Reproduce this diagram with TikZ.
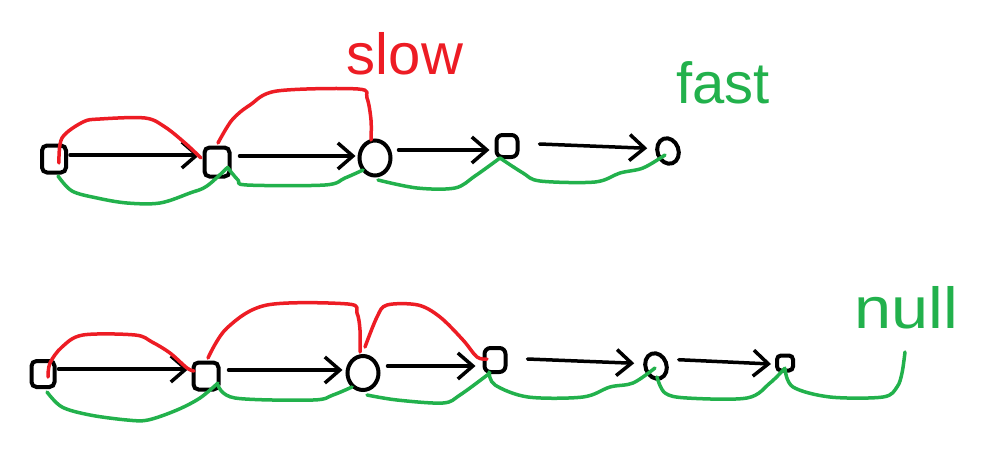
\documentclass[tikz,border=0pt]{standalone}
\usepackage{fontspec}
\setmainfont{Liberation Sans}
\usetikzlibrary{arrows.meta,shapes.geometric,calc}
\definecolor{pred}{HTML}{ED1C24}
\definecolor{pgreen}{HTML}{22B14C}
\begin{document}
\begin{tikzpicture}[x=1pt,y=-1pt,
  sq/.style n args={2}{draw=black,line width=4pt,rounded corners=5pt,inner sep=0pt,minimum width=#1,minimum height=#2},
  rd/.style n args={2}{draw=black,ellipse,line width=4pt,inner sep=0pt,minimum width=#1,minimum height=#2},
  arr/.style={line width=3.5pt,-{Straight Barb[length=15pt,width=26pt,line width=3.5pt]},line cap=round},
  redc/.style={pred,line width=3.5pt,line cap=round,line join=round},
  grc/.style={pgreen,line width=3.5pt,line cap=round,line join=round},
  lbl/.style={inner sep=0pt,font=\fontsize{58}{58}\selectfont}]
\useasboundingbox[fill=white] (0,0) rectangle (1002,452);

% top row
\node[sq={24pt}{27pt}] (n1) at (54,159) {};
\node[sq={25pt}{29pt}] (n2) at (217,162) {};
\node[rd={31pt}{35pt}] (n3) at (375,158) {};
\node[sq={21pt}{22pt},rounded corners=6pt] (n4) at (507,146) {};
\node[rd={21pt}{26pt},rotate=20] (n5) at (668,151) {};

\draw[arr] (n1.east) ++(2,-4) -- ($(n2.west)+(-3,-7)$);
\draw[arr] (n2.east) ++(8,-6) -- ($(n3.west)+(-2,-2)$);
\draw[arr] (n3.east) ++(6,-8) -- ($(n4.west)+(-5,4)$);
\draw[arr] (n4.east) ++(20,-2) -- ($(n5.west)+(-9,-7)$);

\draw[redc] plot[smooth,tension=0.55] coordinates {($(n1)+(5,4)$) (62,138) (83,122) (100,119) (145,118) (165,127) (185,143) ($(n2)+(-16,-4)$)};
\draw[redc] plot[smooth,tension=0.55] coordinates {($(n2)+(1,-19)$) (232,120) (250,105) (277,91) (358,89) (367,98) (371,120) ($(n3)+(-4,-18)$)};

\draw[grc] plot[smooth,tension=0.55] coordinates {($(n1)+(4,17)$) (72,191) (97,198) (127,203) (160,203) (190,193) (207,186) ($(n2)+(11,5)$)};
\draw[grc] plot[smooth,tension=0.55] coordinates {($(n2)+(11,6)$) (238,180) (247,185) (325,185) (345,178) ($(n3)+(-12,12)$)};
\draw[grc] plot[smooth,tension=0.55] coordinates {($(n3)+(3,22)$) (417,188) (455,188) (475,176) ($(n4)+(-7,12)$)};
\draw[grc] plot[smooth,tension=0.55] coordinates {($(n4)+(-7,12)$) (523,173) (540,181) (595,182) (620,173) (643,168) ($(n5)+(-3,4)$)};

\node[lbl,pred] (slow) at (405,54) {slow};
\node[lbl,pgreen] (fast) at (723,83) {fast};

% bottom row
\node[sq={23pt}{26pt}] (m1) at (43,374) {};
\node[sq={25pt}{27pt}] (m2) at (206,376) {};
\node[rd={31pt}{34pt}] (m3) at (363,373) {};
\node[sq={21pt}{24pt},rounded corners=6pt] (m4) at (495,360) {};
\node[rd={21pt}{26pt},rotate=20] (m5) at (656,366) {};
\node[sq={16pt}{15pt},rounded corners=4pt] (m6) at (785,363) {};

\draw[arr] (m1.east) ++(2,-5) -- ($(m2.west)+(-3,-7)$);
\draw[arr] (m2.east) ++(8,-6) -- ($(m3.west)+(-3,-3)$);
\draw[arr] (m3.east) ++(7,-7) -- ($(m4.west)+(-7,6)$);
\draw[arr] (m4.east) ++(20,-1) -- ($(m5.west)+(-10,-7)$);
\draw[arr] (m5.east) ++(11,-2) -- ($(m6.west)+(-4,1)$);

\draw[redc] plot[smooth,tension=0.55] coordinates {($(m1)+(5,3)$) (50,363) (62,347) (83,335) (135,335) (152,342) (170,353) (187,368) ($(m2)+(-12,-5)$)};
\draw[redc] plot[smooth,tension=0.55] coordinates {($(m2)+(2,-18)$) (227,328) (267,305) (348,304) (357,313) (360,330) ($(m3)+(-3,-21)$)};
\draw[redc] plot[smooth,tension=0.55] coordinates {($(m3)+(2,-26)$) (377,317) (387,305) (418,305) (440,317) (463,340) (477,357) ($(m4)+(-8,-1)$)};

\draw[grc] plot[smooth,tension=0.55] coordinates {($(m1)+(4,18)$) (62,407) (90,415) (127,420) (148,420) (177,410) (200,398) ($(m2)+(12,7)$)};
\draw[grc] plot[smooth,tension=0.55] coordinates {($(m2)+(12,9)$) (235,398) (313,400) (333,395) ($(m3)+(-11,14)$)};
\draw[grc] plot[smooth,tension=0.55] coordinates {($(m3)+(4,22)$) (397,400) (443,403) (460,395) ($(m4)+(-5,13)$)};
\draw[grc] plot[smooth,tension=0.55] coordinates {($(m4)+(-6,12)$) (495,385) (528,397) (583,397) (610,387) (633,383) ($(m5)+(-1,2)$)};
\draw[grc] plot[smooth,tension=0.55] coordinates {($(m5)+(1,11)$) (665,393) (687,398) (747,398) (770,383) ($(m6)+(0,5)$)};
\coordinate (nullend) at (905,352);
\draw[grc] plot[smooth,tension=0.55] coordinates {($(m6)+(0,6)$) (793,387) (830,397) (883,397) (897,387) (902,373) (nullend)};

\node[lbl,pgreen,xscale=1.15,transform shape] (null) at (906,308) {null};
\end{tikzpicture}
\end{document}
